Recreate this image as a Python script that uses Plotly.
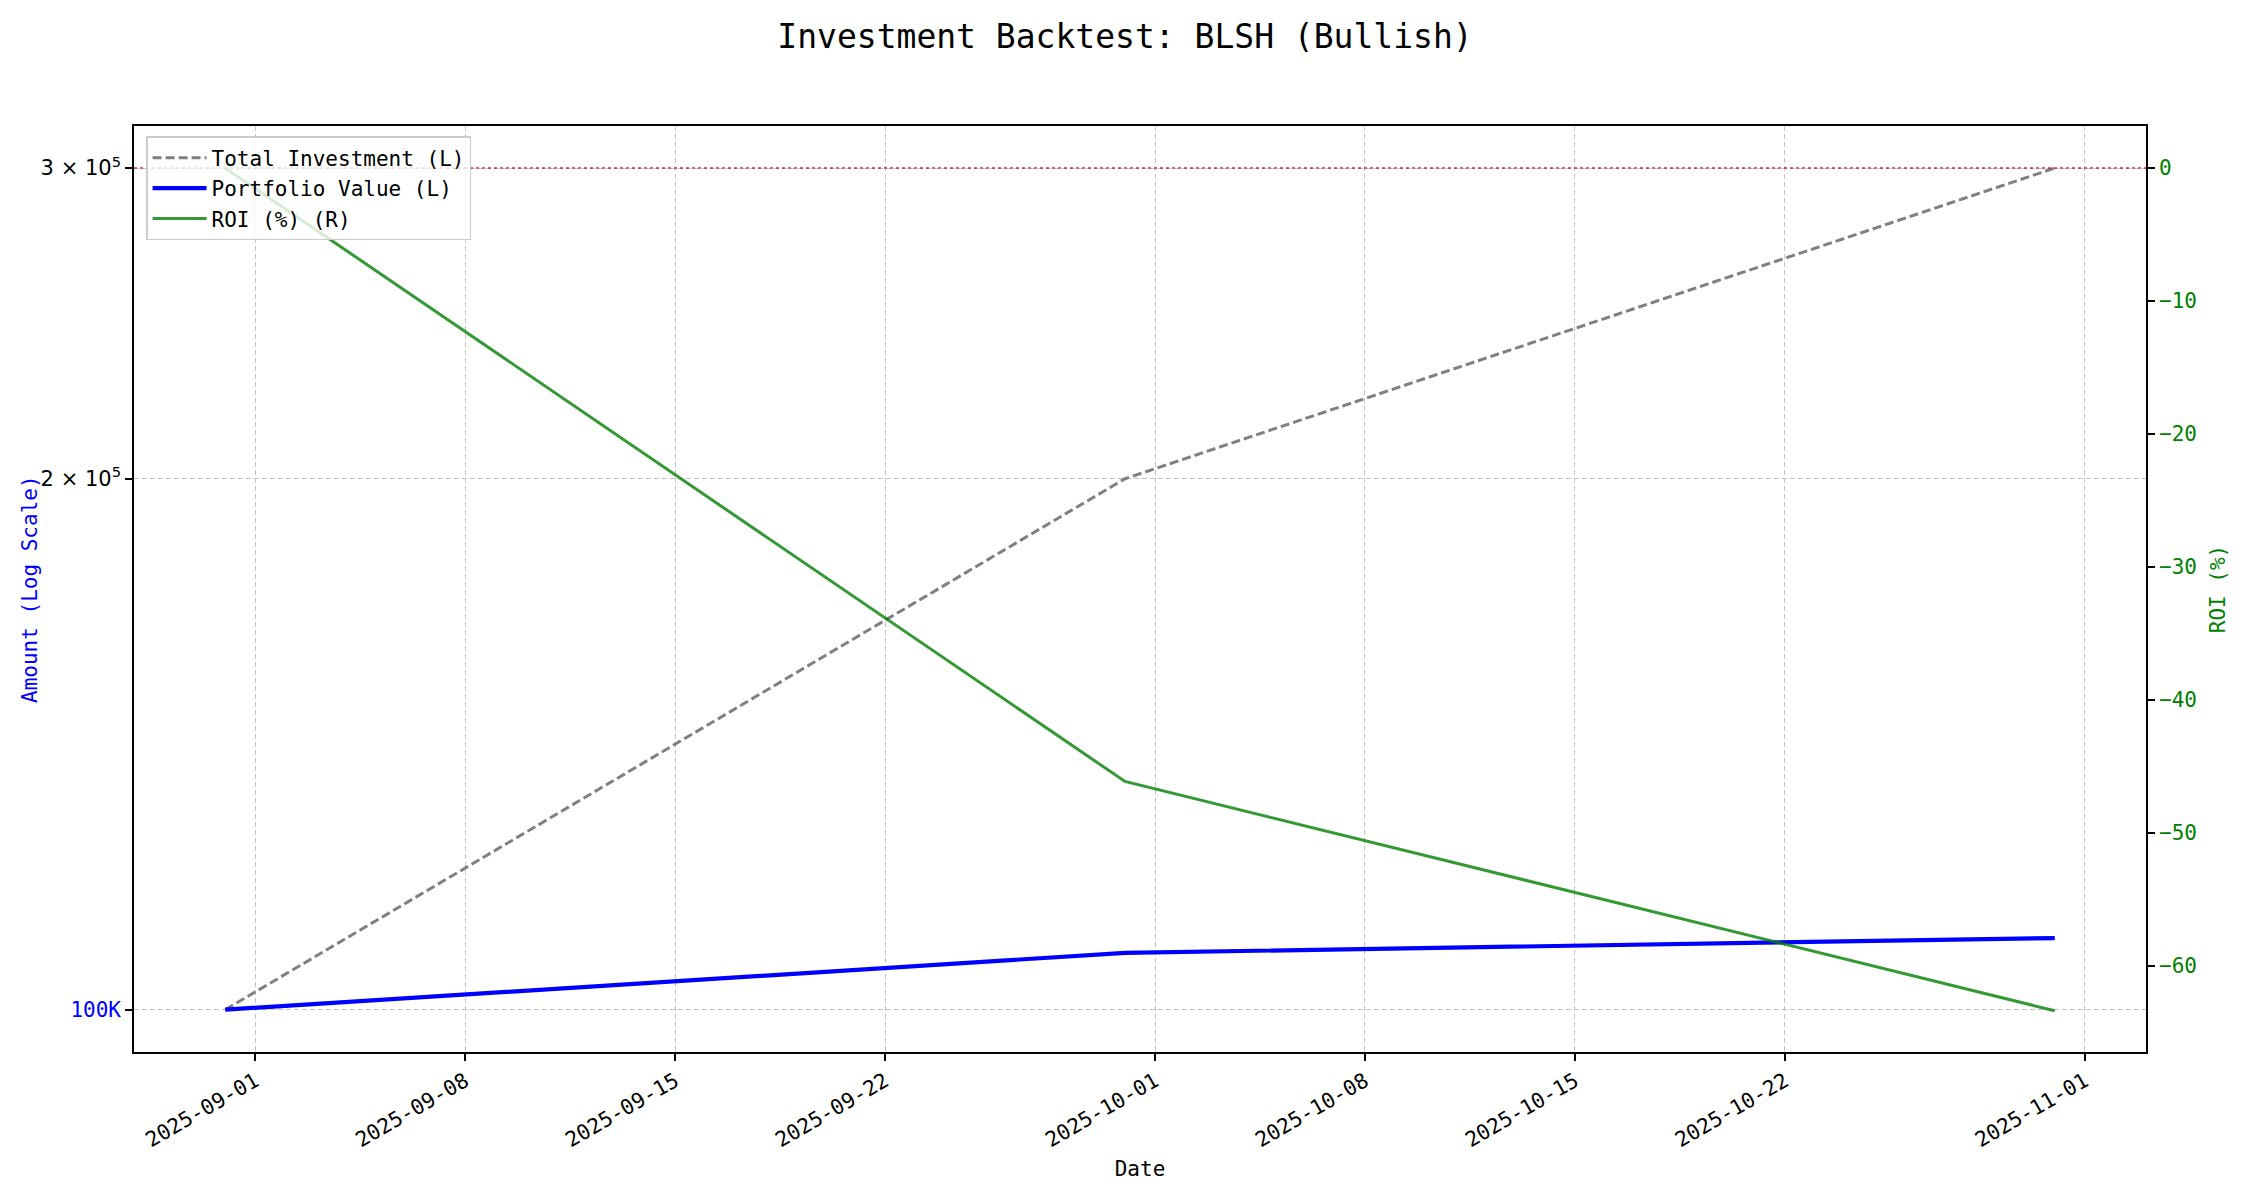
import plotly.graph_objects as go

# data
dates = ["2025-08-31", "2025-09-30", "2025-10-31"]
total_investment = [100000, 200000, 300000]
portfolio_value = [100000, 107700, 109800]
roi_pct = [0.0, -46.15, -63.4]

x_ticks = ["2025-09-01", "2025-09-08", "2025-09-15", "2025-09-22", "2025-10-01",
           "2025-10-08", "2025-10-15", "2025-10-22", "2025-11-01"]
left_ticks = [100000, 200000, 300000]
left_labels = ["<span style='color:blue'>100K</span>",
               "<span style='font-family:DejaVu Sans'>2 × 10<sup>5</sup></span>",
               "<span style='font-family:DejaVu Sans'>3 × 10<sup>5</sup></span>"]
roi_ticks = [0, -10, -20, -30, -40, -50, -60]

FONT = "DejaVu Sans Mono"
GRID = dict(showgrid=True, gridcolor="#c4c4c4", gridwidth=1, griddash="5px,3px")
AXLINE = dict(showline=True, linecolor="black", linewidth=1.6,
              ticks="outside", ticklen=7, tickwidth=1.6, tickcolor="black",
              zeroline=False, automargin=False)

fig = go.Figure()
fig.add_trace(go.Scatter(
    x=dates, y=total_investment, name="Total Investment (L)", mode="lines",
    line=dict(color="#808080", width=3, dash="9px,4px"), yaxis="y",
))
fig.add_trace(go.Scatter(
    x=dates, y=portfolio_value, name="Portfolio Value (L)", mode="lines",
    line=dict(color="#0000ff", width=4.2), yaxis="y",
))
fig.add_trace(go.Scatter(
    x=dates, y=roi_pct, name="ROI (%) (R)", mode="lines",
    line=dict(color="rgba(0,128,0,0.8)", width=3), yaxis="y2",
))

# zero ROI reference line
fig.add_shape(type="line", xref="paper", x0=0, x1=1, yref="y2", y0=0, y1=0,
              line=dict(color="rgba(200,0,0,0.8)", width=1.6, dash="dot"))

# the page body adds an 8px margin, so the figure is sized to fit inside it
W, H = 2234, 1184
ML, MR, MT, MB = 126, 96, 118, 140

# left axis title placed by hand (standoff is ignored without automargin)
fig.add_annotation(
    text="Amount (Log Scale)", textangle=-90, showarrow=False,
    xref="paper", yref="paper", x=(22 - ML) / (W - ML - MR), y=0.5,
    xanchor="center", yanchor="middle", font=dict(color="blue", size=21),
)

fig.update_layout(
    width=W, height=H,
    margin=dict(l=ML, r=MR, t=MT, b=MB, autoexpand=False),
    paper_bgcolor="white", plot_bgcolor="white",
    font=dict(family=FONT, size=21, color="black"),
    title=dict(text="Investment Backtest: BLSH (Bullish)", x=0.5, xref="container",
               y=1 - 28 / H, yref="container", yanchor="middle",
               font=dict(size=33)),
    xaxis=dict(
        type="date", range=["2025-08-27 23:00", "2025-11-03 01:00"],
        tickvals=x_ticks, tickformat="%Y-%m-%d", tickangle=-30,
        mirror=True, **AXLINE, **GRID,
        title=dict(text="Date", standoff=10, font=dict(size=21)),
    ),
    yaxis=dict(
        type="log", range=[4.976, 5.501],
        tickvals=left_ticks, ticktext=left_labels,
        **AXLINE, **GRID,
    ),
    yaxis2=dict(
        overlaying="y", side="right", range=[-66.5, 3.16],
        tickvals=roi_ticks,
        ticktext=[("−" + str(-v)) if v < 0 else str(v) for v in roi_ticks],
        tickfont=dict(color="green"),
        showgrid=False, **AXLINE,
        title=dict(text="ROI (%)", standoff=14, font=dict(color="green", size=21)),
    ),
    legend=dict(
        x=0.006, y=0.989, xanchor="left", yanchor="top",
        bgcolor="rgba(255,255,255,0.8)", bordercolor="#cccccc", borderwidth=1.5,
        font=dict(size=21), tracegroupgap=0, itemwidth=54,
    ),
    showlegend=True,
)

fig.write_html("out.html")
